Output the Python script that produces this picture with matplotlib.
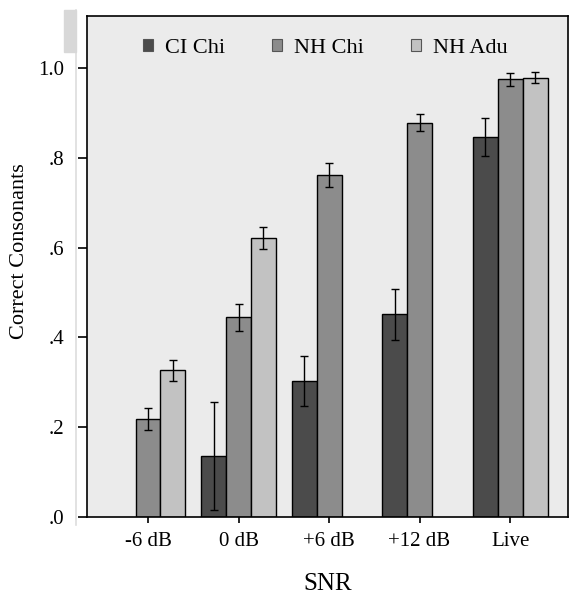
import matplotlib
matplotlib.use("Agg")
import matplotlib.pyplot as plt
import numpy as np
from matplotlib.patches import Rectangle
from matplotlib.lines import Line2D

categories = ["-6 dB", "0 dB", "+6 dB", "+12 dB", "Live"]
series = ["CI Chi", "NH Chi", "NH Adu"]
ci_chi = [np.nan, 0.136, 0.303, 0.452, 0.846]
ci_chi_err = [np.nan, 0.12, 0.055, 0.057, 0.042]
nh_chi = [0.218, 0.445, 0.762, 0.878, 0.975]
nh_chi_err = [0.025, 0.03, 0.027, 0.019, 0.014]
nh_adu = [0.327, 0.621, np.nan, np.nan, 0.979]
nh_adu_err = [0.023, 0.025, np.nan, np.nan, 0.012]
yticks = [0.0, 0.2, 0.4, 0.6, 0.8, 1.0]
yticklabels = [".0", ".2", ".4", ".6", ".8", "1.0"]

plt.rcParams['font.family'] = ['Liberation Serif', 'DejaVu Serif']

fig = plt.figure(figsize=(5.7, 5.94), dpi=100)
ax = fig.add_axes([0.1526, 0.1296, 0.8439, 0.8434])
ax.set_facecolor("#ebebeb")

colors = ["#4b4b4b", "#8c8c8c", "#c2c2c2"]
vals = [ci_chi, nh_chi, nh_adu]
errs = [ci_chi_err, nh_chi_err, nh_adu_err]
x = np.arange(len(categories))
w = 0.276
for i, (v, e, c, lab) in enumerate(zip(vals, errs, colors, series)):
    ax.bar(x + (i - 1) * w, v, width=w, color=c, edgecolor="black",
           linewidth=1.0, label=lab, zorder=2)
    ax.errorbar(x + (i - 1) * w, v, yerr=e, fmt="none", ecolor="black",
                elinewidth=1.0, capsize=3, capthick=1.0, zorder=3)

ax.set_xlim(-0.674, 4.64)
ax.set_ylim(0, 1.116)
ax.set_xticks(x)
ax.set_xticklabels(categories, fontsize=15)
ax.set_yticks(yticks)
ax.set_yticklabels(yticklabels, fontsize=15)
ax.tick_params(axis="x", direction="out", length=4.5, width=1.2, pad=6)
ax.tick_params(axis="y", direction="out", length=6.5, width=1.2, pad=10)
for s in ax.spines.values():
    s.set_linewidth(1.2)
ax.set_xlabel("SNR", fontsize=18, va="center")
ax.xaxis.set_label_coords(0.5, -0.134)
ax.set_ylabel("Correct Consonants", fontsize=16, va="center")
ax.yaxis.set_label_coords(-0.141, 0.531)

leg = ax.legend(loc="center left", ncol=3, frameon=False, fontsize=16,
                handlelength=0.45, handleheight=0.45, columnspacing=2.1,
                handletextpad=0.55, borderpad=0, borderaxespad=0,
                bbox_to_anchor=(143 / 570, 1 - 48.5 / 594),
                bbox_transform=fig.transFigure)
for h in leg.legend_handles:
    h.set_edgecolor("#555555")
    h.set_linewidth(0.8)

fig.patches.append(Rectangle((64 / 570, 1 - 52 / 594), 12 / 570, 42 / 594,
                             transform=fig.transFigure, color="#d8d8d8",
                             zorder=0))
fig.lines.append(Line2D([76 / 570, 76 / 570], [1 - 10 / 594, 1 - 525 / 594],
                        transform=fig.transFigure, color="#dddddd",
                        linewidth=1.2, zorder=0))

fig.savefig("out.png", dpi=100)
